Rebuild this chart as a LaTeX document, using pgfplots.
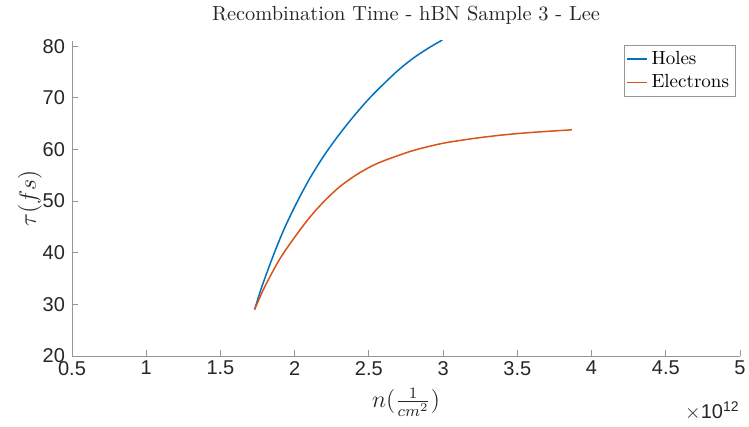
\documentclass[border=0pt]{standalone}
\usepackage{fontspec}
\setsansfont{Liberation Sans}
\usepackage{pgfplots}
\pgfplotsset{compat=1.18}
\definecolor{mblue}{rgb}{0,0.447,0.741}
\definecolor{morange}{rgb}{0.85,0.325,0.098}
\definecolor{axgray}{RGB}{150,150,150}
\definecolor{txt}{RGB}{38,38,38}

\begin{document}
\begin{tikzpicture}
% page = 749x427 px at 0.5pt per px, axis box lower-left at (0,0)
\useasboundingbox (-36pt,-35.5pt) rectangle (338.5pt,178pt);
\begin{axis}[
    width=334pt, height=157.5pt,
    scale only axis,
    clip mode=individual,
    xmin=0.5, xmax=5, ymin=20, ymax=81,
    xtick={0.5,1,...,5}, ytick={20,30,...,80},
    axis x line*=bottom, axis y line*=left,
    axis line style={draw=axgray, line width=0.4pt, -},
    tick style={draw=axgray, line width=0.4pt},
    tick align=inside, major tick length=3pt,
    /pgf/number format/assume math mode=true,
    tick label style={font=\sffamily\fontsize{10}{11}\selectfont, text=txt},
    xticklabel style={yshift=1pt},
    title={Recombination Time - hBN Sample 3 - Lee},
    every axis title/.style={at={(axis description cs:0.5,1)}, anchor=center,
                 yshift=13pt, font=\fontsize{10.2}{11}\selectfont, text=txt},
    xlabel={$n(\frac{1}{cm^2})$},
    ylabel={$\tau(fs)$},
    every axis x label/.style={at={(axis description cs:0.5,0)}, anchor=center,
                 yshift=-23pt, font=\fontsize{11.5}{12}\selectfont, text=txt},
    every axis y label/.style={at={(axis description cs:0,0.5)}, anchor=center,
                 rotate=90, yshift=21pt, font=\fontsize{12}{13}\selectfont, text=txt},
    legend style={at={(rel axis cs:1,0.987)}, xshift=-2.5pt, anchor=north east,
                  outer sep=0pt, draw=axgray, line width=0.4pt,
                  font=\fontsize{9.5}{10}\selectfont,
                  inner sep=1pt, row sep=-0.5pt},
    legend cell align=left,
    legend image code/.code={\draw[#1, line width=0.75pt] (0pt,0pt) -- (10pt,0pt);},
]
\addplot[mblue, line width=0.75pt, smooth, tension=0.5] coordinates {
  (1.73,29.0) (1.78,33.5) (1.85,39.0) (1.92,44.0) (2.0,48.9) (2.1,54.3)
  (2.2,58.9) (2.3,62.9) (2.4,66.5) (2.5,69.8) (2.6,72.7) (2.7,75.4)
  (2.8,77.7) (2.9,79.6) (2.995,81.2)
};
\addlegendentry{Holes}
\addplot[morange, line width=0.75pt, smooth, tension=0.5] coordinates {
  (1.73,29.0) (1.8,33.5) (1.9,38.8) (2.0,43.0) (2.1,46.8) (2.2,50.0)
  (2.3,52.7) (2.4,54.8) (2.5,56.5) (2.6,57.8) (2.8,59.8) (3.0,61.2)
  (3.2,62.1) (3.4,62.8) (3.6,63.3) (3.867,63.8)
};
\addlegendentry{Electrons}
\node[anchor=east, font=\sffamily\fontsize{10}{11}\selectfont, text=txt, inner sep=0pt]
  at ([yshift=-27.5pt]rel axis cs:1,0) {$\times$10\textsuperscript{12}};
\end{axis}
\end{tikzpicture}
\end{document}
